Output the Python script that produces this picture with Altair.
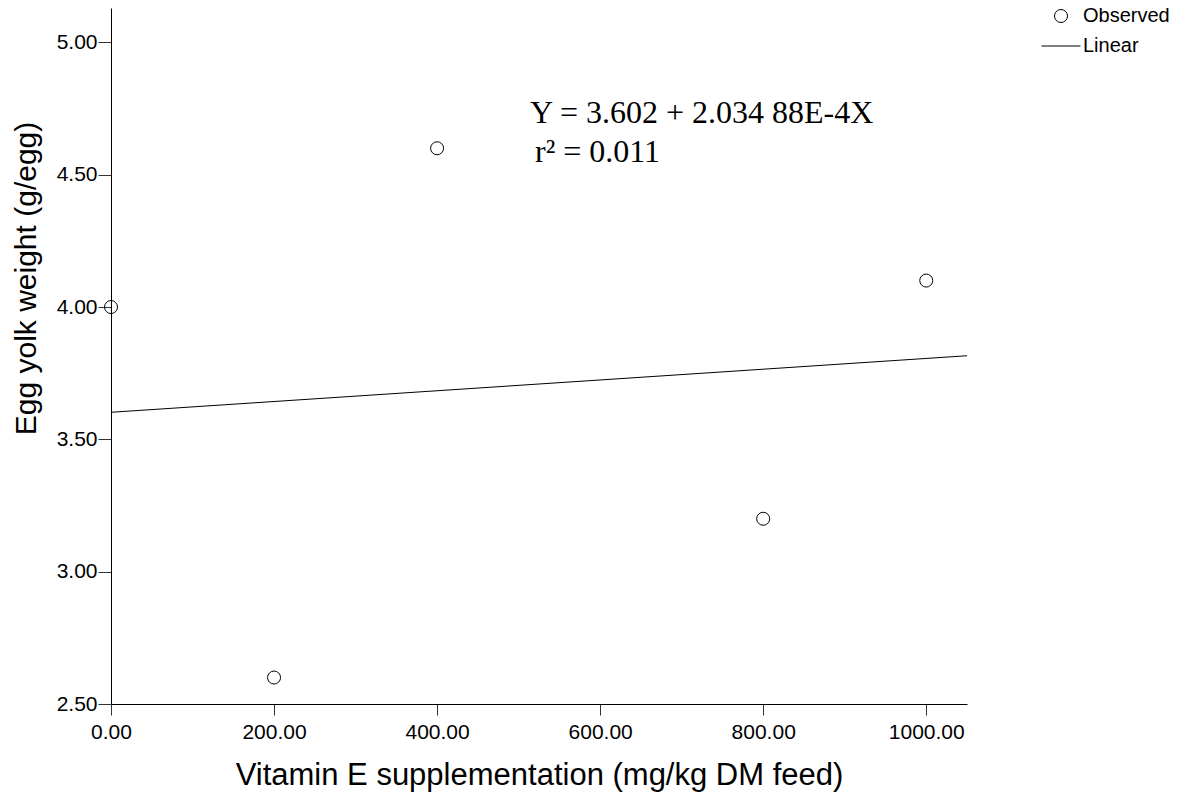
import altair as alt
import pandas as pd

# Data
vitamin_e = [0, 200, 400, 800, 1000]
yolk_weight = [4.0, 2.6, 4.6, 3.2, 4.1]
series_names = ["Observed", "Linear"]
x_ticks = [0, 200, 400, 600, 800, 1000]
y_ticks = [2.5, 3.0, 3.5, 4.0, 4.5, 5.0]
equation_lines = ["Y = 3.602 + 2.034 88E-4X", "r\u00b2 = 0.011"]

df = pd.DataFrame({"x": vitamin_e, "y": yolk_weight, "series": ["Observed"] * len(vitamin_e)})

W, H = 856, 696
SANS = "Liberation Sans"
SERIF = "Liberation Serif"

x_scale = alt.Scale(domain=[0, 1050], nice=False, zero=False)
y_scale = alt.Scale(domain=[2.5, 5.13], nice=False, zero=False)

x_axis = alt.Axis(
    values=x_ticks, format=".2f", title="Vitamin E supplementation (mg/kg DM feed)",
    grid=False, domainColor="black", tickColor="#333", tickSize=11, labelPadding=6,
    labelFont=SANS, labelFontSize=21, labelColor="black", labelFlush=False,
    titleFont=SANS, titleFontSize=31, titleFontWeight="normal", titleColor="black",
    titleY=80, titleBaseline="alphabetic",
)
y_axis = alt.Axis(
    values=y_ticks, format=".2f", title="Egg yolk weight (g/egg)",
    grid=False, domainColor="black", tickColor="#333", tickSize=13, labelPadding=1,
    labelFont=SANS, labelFontSize=21, labelColor="black", labelFlush=False,
    titleFont=SANS, titleFontSize=30, titleFontWeight="normal", titleColor="black",
    titleX=-76, titleY=270, titleAlign="center", titleBaseline="alphabetic", titleAngle=270,
)

points = alt.Chart(df).mark_point(
    filled=False, color="black", size=169, strokeWidth=1, opacity=1
).encode(
    x=alt.X("x:Q", scale=x_scale, axis=x_axis),
    y=alt.Y("y:Q", scale=y_scale, axis=y_axis),
    shape=alt.Shape(
        "series:N",
        scale=alt.Scale(domain=series_names, range=["circle", "M-3,0L3,0"]),
        legend=alt.Legend(
            title=None, orient="none", legendX=940, legendY=-2, padding=0,
            labelFont=SANS, labelFontSize=20, labelColor="black", labelOffset=12,
            symbolSize=169, symbolStrokeColor="black", symbolFillColor="transparent",
            symbolStrokeWidth=1, rowPadding=10,
        ),
    ),
)

line = alt.Chart(df).transform_regression(
    "x", "y", method="linear", extent=[0, 1050]
).mark_line(color="black", strokeWidth=1).encode(
    x=alt.X("x:Q", scale=x_scale),
    y=alt.Y("y:Q", scale=y_scale),
)

eq_df = pd.DataFrame({"t": equation_lines, "px": [419, 424], "py": [115, 154]})
eq = alt.Chart(eq_df).mark_text(
    font=SERIF, fontSize=32, color="black", align="left", baseline="alphabetic"
).encode(
    x=alt.X("px:Q", scale=None),
    y=alt.Y("py:Q", scale=None),
    text="t:N",
)

chart = alt.layer(line, points, eq).properties(
    width=W, height=H,
    autosize=alt.AutoSizeParams(type="none"),
    padding={"left": 103, "top": 0, "right": 213, "bottom": 88},
).configure_view(stroke=None).configure_axis(domainWidth=1, tickWidth=1)

chart.save("out.html", embed_options={"renderer": "svg", "actions": False})
